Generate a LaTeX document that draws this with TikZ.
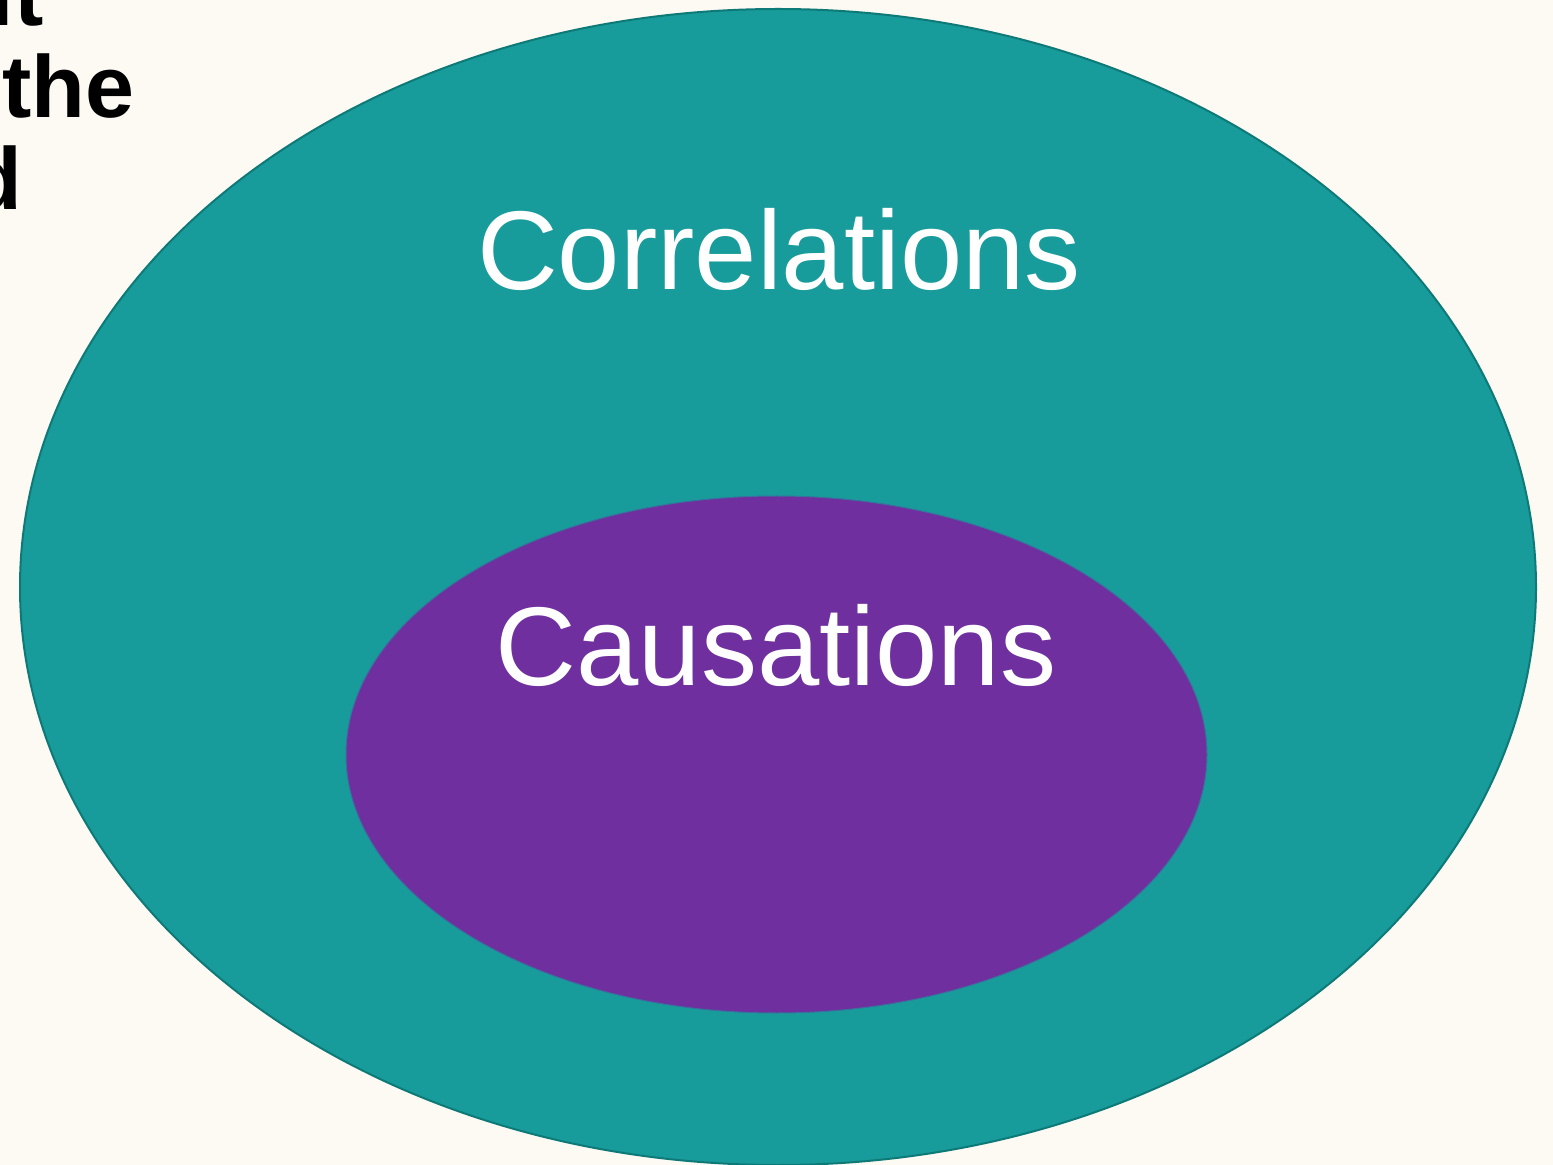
\documentclass[tikz,border=0pt]{standalone}
\usepackage{fontspec}
\setmainfont{Liberation Sans}
\definecolor{bgcream}{RGB}{253, 249, 243}
\definecolor{corrteal}{RGB}{23, 156, 155}
\definecolor{corredge}{RGB}{14, 122, 120}
\definecolor{causpurple}{RGB}{111, 47, 159}
\usetikzlibrary{shapes.geometric, positioning}
\tikzset{
    setbox/.style={draw, ellipse, inner sep=0pt},
    setlabel/.style={font=\fontsize{56}{60}\selectfont, text=white, inner sep=0pt, anchor=base},
    cuttext/.style={font=\fontsize{44}{46}\selectfont\bfseries, text=black, inner sep=0pt, anchor=base east},
}
\begin{document}
\begin{tikzpicture}[x=0.5pt, y=-0.5pt]
    % page and margins
    \fill[bgcream] (0, 0) rectangle (1553, 1165);
    \useasboundingbox (0, 0) rectangle (1553, 1165);

    % the two sets
    \node[setbox, fill=corrteal, draw=corredge, line width=1pt, minimum width=758pt, minimum height=578pt] (corr) at (778, 587) {};
    \node[setbox, fill=causpurple, draw=corrteal!60!causpurple, line width=0.5pt, minimum width=430.5pt, minimum height=258.5pt] (caus) at (776.5, 754.5) {};

    \node[setlabel] (corrlabel) at (779, 290) {Correlations};
    \node[setlabel] (causlabel) at (776, 685) {Causations};

    % heading cut off at the left edge
    \node[cuttext] (cutone) at (44, 26) {it};
    \node[cuttext] (cuttwo) at (135, 118) {the};
    \node[cuttext] (cutthree) at (23, 210) {d};
\end{tikzpicture}
\end{document}
